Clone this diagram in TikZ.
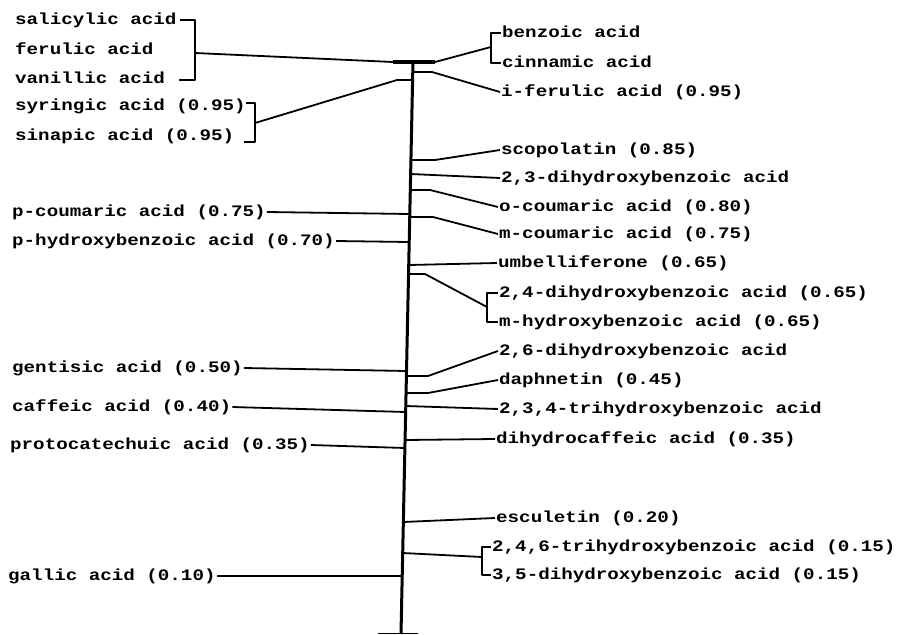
\documentclass[tikz,border=0pt]{standalone}
\usepackage{fontspec}
\newfontfamily\twfont[FakeStretch=1.2]{Liberation Mono}
\newcommand\axpt[2]{\coordinate (#1) at ({413-12*(#2-62)/571},#2);}
\begin{document}
\begin{tikzpicture}[x=1pt,y=-1pt,
  lbl/.style={font=\twfont\bfseries\fontsize{16}{18}\selectfont, inner xsep=1pt, inner ysep=0pt, text height=11pt, text depth=3pt},
  re/.style={lbl, anchor=west},
  le/.style={lbl, anchor=west},
  conn/.style={line width=1.8pt, line join=round},
  axisline/.style={line width=3pt},
  topbar/.style={line width=3.8pt}]
\useasboundingbox (0,0) rectangle (903,635);

% axis
\coordinate (axtop) at (413,61);
\coordinate (axbot) at (401,634);
\draw[axisline] (axtop) -- (axbot);
\coordinate (tkl) at (378,633.5);
\coordinate (tkr) at (418,633.5);
\draw[conn] (tkl) -- (tkr);
\coordinate (barL) at (393,62);
\coordinate (barR) at (435,62);
\draw[topbar] (barL) -- (barR);

% left labels
\node[le] (sal) at (14,20) {salicylic acid};
\node[le] (fer) at (14,50) {ferulic acid};
\node[le] (van) at (14,79) {vanillic acid};
\node[le] (syr) at (14,106) {syringic acid (0.95)};
\node[le] (sin) at (14,136) {sinapic acid (0.95)};
\node[le] (pcou) at (11,212) {p-coumaric acid (0.75)};
\node[le] (phyd) at (11,241) {p-hydroxybenzoic acid (0.70)};
\node[le] (gen) at (11,368) {gentisic acid (0.50)};
\node[le] (caf) at (11,407) {caffeic acid (0.40)};
\node[le] (pro) at (9,445) {protocatechuic acid (0.35)};
\node[le] (gal) at (7,576) {gallic acid (0.10)};

% right labels
\node[re] (benz) at (501,33) {benzoic acid};
\node[re] (cinn) at (501,63) {cinnamic acid};
\node[re] (ifer) at (500,92) {i-ferulic acid (0.95)};
\node[re] (scop) at (500,150) {scopolatin (0.85)};
\node[re] (dh23) at (500,178) {2,3-dihydroxybenzoic acid};
\node[re] (ocou) at (498,207) {o-coumaric acid (0.80)};
\node[re] (mcou) at (498,234) {m-coumaric acid (0.75)};
\node[re] (umb) at (497,263) {umbelliferone (0.65)};
\node[re] (dh24) at (498,293) {2,4-dihydroxybenzoic acid (0.65)};
\node[re] (mhyd) at (498,322) {m-hydroxybenzoic acid (0.65)};
\node[re] (dh26) at (498,351) {2,6-dihydroxybenzoic acid};
\node[re] (daph) at (498,380) {daphnetin (0.45)};
\node[re] (th234) at (498,409) {2,3,4-trihydroxybenzoic acid};
\node[re] (dhc) at (495,439) {dihydrocaffeic acid (0.35)};
\node[re] (esc) at (495,518) {esculetin (0.20)};
\node[re] (th246) at (491,547) {2,4,6-trihydroxybenzoic acid (0.15)};
\node[re] (dh35) at (491,575) {3,5-dihydroxybenzoic acid (0.15)};

% top left bracket
\coordinate (b1a) at (180,20);
\coordinate (b1t) at (195,20);
\coordinate (b1b) at (195,80);
\coordinate (b1c) at (179,80);
\coordinate (b1m) at (195,53);
\draw[conn] (b1a) -- (b1t) -- (b1b) -- (b1c);
\draw[conn] (b1m) -- (barL);

% top right bracket
\coordinate (r1t) at (491,33);
\coordinate (r1b) at (491,63);
\coordinate (r1m) at (491,47);
\draw[conn] (benz.west) -- (r1t) -- (r1b) -- (cinn.west);
\draw[conn] (barR) -- (r1m);

% syringic / sinapic bracket
\coordinate (b2a) at (246,103);
\coordinate (b2t) at (255,103);
\coordinate (b2b) at (255,142);
\coordinate (b2c) at (244,142);
\coordinate (b2m) at (255,123);
\draw[conn] (b2a) -- (b2t) -- (b2b) -- (b2c);
\axpt{a80}{80}
\draw[conn] (a80) -- (397,80) -- (b2m);

% right connectors
\axpt{a72}{72}
\draw[conn] (a72) -- (432,72) -- (ifer.west);
\axpt{a160}{160}
\draw[conn] (a160) -- (435,160) -- (scop.west);
\axpt{a174}{174}
\draw[conn] (a174) -- (dh23.west);
\axpt{a190}{190}
\draw[conn] (a190) -- (430,190) -- (ocou.west);
\axpt{a217}{217}
\draw[conn] (a217) -- (433,217) -- (mcou.west);
\axpt{a265}{265}
\draw[conn] (a265) -- (umb.west);
\axpt{a274}{274}
\coordinate (b3t) at (487,293);
\coordinate (b3b) at (487,322);
\coordinate (b3m) at (487,307);
\draw[conn] (dh24.west) -- (b3t) -- (b3b) -- (mhyd.west);
\draw[conn] (a274) -- (425,274) -- (b3m);
\axpt{a376}{376}
\draw[conn] (a376) -- (428,376) -- (dh26.west);
\axpt{a393}{393}
\draw[conn] (a393) -- (428,393) -- (daph.west);
\axpt{a406}{406}
\draw[conn] (a406) -- (th234.west);
\axpt{a440}{440}
\draw[conn] (a440) -- (dhc.west);
\axpt{a522}{522}
\draw[conn] (a522) -- (esc.west);
\axpt{a553}{553}
\coordinate (b4t) at (482,547);
\coordinate (b4b) at (482,575);
\coordinate (b4m) at (482,557);
\draw[conn] (th246.west) -- (b4t) -- (b4b) -- (dh35.west);
\draw[conn] (a553) -- (b4m);

% left connectors
\axpt{a214}{214}
\draw[conn] (pcou.east) -- (a214);
\axpt{a242}{242}
\draw[conn] (phyd.east) -- (a242);
\axpt{a371}{371}
\draw[conn] (gen.east) -- (a371);
\axpt{a412}{412}
\draw[conn] (caf.east) -- (a412);
\axpt{a448}{448}
\draw[conn] (pro.east) -- (a448);
\axpt{a576}{576}
\draw[conn] (gal.east) -- (a576);
\end{tikzpicture}
\end{document}
